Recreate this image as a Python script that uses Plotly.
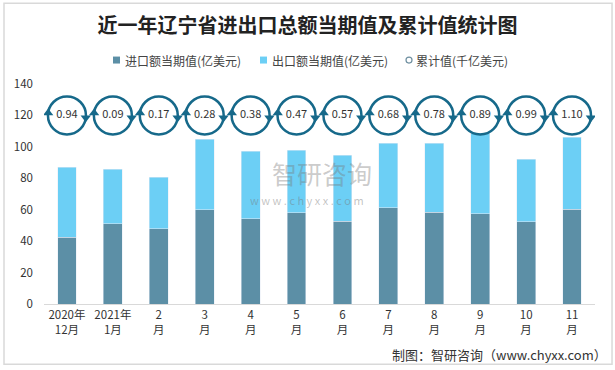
import plotly.graph_objects as go

categories = ["2020年<br>12月", "2021年<br>1月", "2<br>月", "3<br>月", "4<br>月", "5<br>月",
              "6<br>月", "7<br>月", "8<br>月", "9<br>月", "10<br>月", "11<br>月"]
import_vals = [42.5, 51.0, 48.0, 60.0, 54.2, 58.0, 52.8, 61.2, 58.5, 57.3, 52.2, 60.4]
export_vals = [44.5, 34.8, 32.8, 44.7, 43.0, 39.8, 41.8, 41.0, 43.7, 51.5, 39.8, 45.6]
cumulative = [0.94, 0.09, 0.17, 0.28, 0.38, 0.47, 0.57, 0.68, 0.78, 0.89, 0.99, 1.10]
y_ticks = [0, 20, 40, 60, 80, 100, 120, 140]
series_names = ["进口额当期值(亿美元)", "出口额当期值(亿美元)", "累计值(千亿美元)"]

FONT = "Noto Sans CJK SC"
DARK = "#5c8fa6"
LIGHT = "#6ccff5"
RING = "#16698a"
ICON_Y = 120

xs = list(range(len(categories)))

fig = go.Figure()
fig.add_trace(go.Bar(x=xs, y=import_vals, name=series_names[0], marker_color=DARK))
fig.add_trace(go.Bar(x=xs, y=export_vals, name=series_names[1], marker_color=LIGHT))
fig.add_trace(go.Scatter(
    x=xs, y=[ICON_Y] * len(xs), mode="markers+text", name=series_names[2],
    marker=dict(symbol="circle-open", size=38, color=RING, line=dict(width=2.5, color=RING)),
    text=[f"{v:.2f}" for v in cumulative], textposition="middle center",
    textfont=dict(family=FONT, size=11, color="#333333"),
))
# arrow heads of the ring icons
fig.add_trace(go.Scatter(
    x=[x + 0.41 for x in xs], y=[ICON_Y - 1.5] * len(xs), mode="markers",
    marker=dict(symbol="triangle-down", size=9, color=RING), hoverinfo="skip"))
fig.add_trace(go.Scatter(
    x=[x - 0.41 for x in xs], y=[ICON_Y + 1.5] * len(xs), mode="markers",
    marker=dict(symbol="triangle-up", size=9, color=RING), hoverinfo="skip"))

# ---- hand-built legend (paper coordinates) ----
legend_shapes = [
    dict(type="rect", xref="paper", yref="paper", x0=0.1252, x1=0.1379, y0=1.093, y1=1.1247,
         fillcolor=DARK, line=dict(width=0)),
    dict(type="rect", xref="paper", yref="paper", x0=0.3920, x1=0.4047, y0=1.093, y1=1.1247,
         fillcolor=LIGHT, line=dict(width=0)),
    dict(type="circle", xref="paper", yref="paper", x0=0.6570, x1=0.6679, y0=1.0952, y1=1.1224,
         line=dict(width=1.2, color="#6e8fa0")),
]
legend_annots = [
    dict(text=series_names[i], xref="paper", yref="paper", x=xp, y=1.1088, xanchor="left",
         yanchor="middle", showarrow=False, font=dict(family=FONT, size=12, color="#444444"))
    for i, xp in enumerate([0.1434, 0.4102, 0.6715])
]

fig.update_layout(
    width=615, height=370,
    barmode="stack", bargap=0.59, showlegend=False,
    paper_bgcolor="white", plot_bgcolor="white",
    margin=dict(l=44, r=20, t=84, b=65.5),
    font=dict(family=FONT, size=12, color="#333333"),
    title=dict(text="<b>近一年辽宁省进出口总额当期值及累计值统计图</b>", x=0.5, xanchor="center",
               y=0.93, yanchor="middle", font=dict(family=FONT, size=20, color="#222222")),
    xaxis=dict(tickvals=xs, ticktext=categories, range=[-0.5, len(xs) - 0.5], automargin=False,
               showline=True, linecolor="#d9d9d9", linewidth=1, ticks="", showgrid=False,
               tickfont=dict(family=FONT, size=11.5, color="#333333"), zeroline=False),
    yaxis=dict(range=[0, 140], tickvals=y_ticks, showgrid=False, zeroline=False, automargin=False,
               showline=False, ticks="", ticklabelstandoff=10,
               tickfont=dict(family=FONT, size=11.5, color="#333333")),
    shapes=[dict(type="rect", xref="paper", yref="paper", x0=-0.0726, x1=1.0309, y0=-0.2744, y1=1.3673,
                 line=dict(color="#d9d9d9", width=1.5))] + legend_shapes,
    annotations=[
        dict(text="制图：智研咨询（www.chyxx.com）", xref="paper", yref="paper", x=1.025, y=-0.2290,
             xanchor="right", yanchor="middle", showarrow=False,
             font=dict(family=FONT, size=13, color="#333333")),
        dict(text="智研咨询", xref="paper", yref="paper", x=0.5054, y=0.595, xanchor="center",
             yanchor="middle", showarrow=False, font=dict(family=FONT, size=25, color="rgba(120,120,120,0.4)")),
        dict(text="w w w . c h y x x . c o m", xref="paper", yref="paper", x=0.477, y=0.475, xanchor="center",
             yanchor="middle", showarrow=False, font=dict(family=FONT, size=11, color="rgba(120,120,120,0.45)")),
    ] + legend_annots,
)

fig.write_html("out.html", config={"displayModeBar": False},
               post_script="document.body.style.margin='0px';window.dispatchEvent(new Event('resize'));")
